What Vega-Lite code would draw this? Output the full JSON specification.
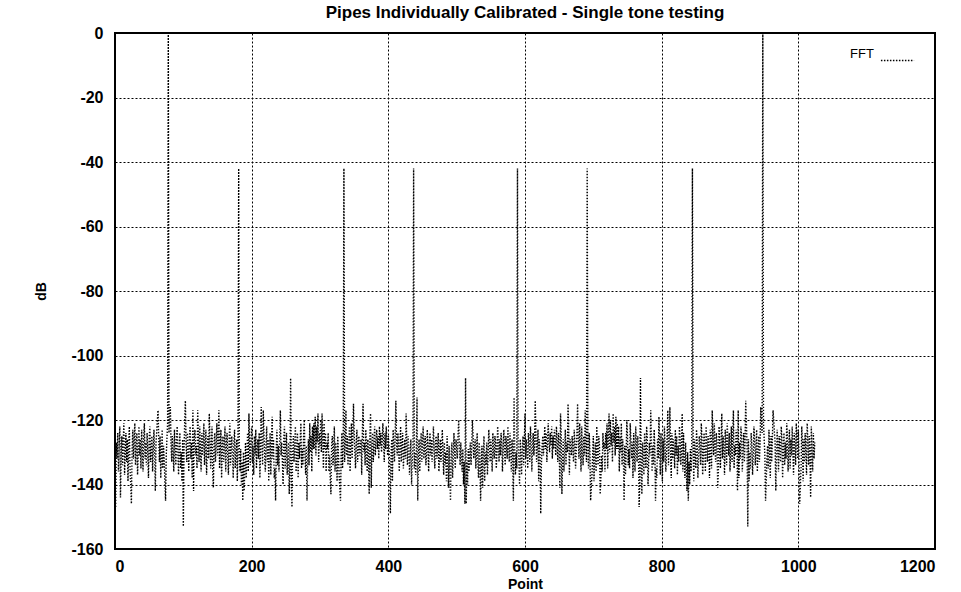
{
"$schema": "https://vega.github.io/schema/vega-lite/v6.json",
"width": 820,
"height": 516,
"autosize": "none",
"padding": {"left": 115, "top": 33, "right": 26, "bottom": 43},
"background": "white",
"title": {"text": "Pipes Individually Calibrated - Single tone testing", "font": "Liberation Sans", "fontWeight": "bold", "fontSize": 17, "color": "black", "offset": 3, "anchor": "middle"},
"data": {"values": [
{"p":1,"d":-147},{"p":2,"d":-127},{"p":3,"d":-132},{"p":4,"d":-124},{"p":5,"d":-136},{"p":6,"d":-129},{"p":7,"d":-122},{"p":8,"d":-144},{"p":9,"d":-131},{"p":10,"d":-125},
{"p":11,"d":-134},{"p":12,"d":-127},{"p":13,"d":-121},{"p":14,"d":-137},{"p":15,"d":-130},{"p":16,"d":-124},{"p":17,"d":-133},{"p":18,"d":-126},{"p":19,"d":-139},{"p":20,"d":-128},
{"p":21,"d":-122},{"p":22,"d":-135},{"p":23,"d":-140},{"p":24,"d":-146},{"p":25,"d":-130},{"p":26,"d":-123},{"p":27,"d":-132},{"p":28,"d":-126},{"p":29,"d":-121},{"p":30,"d":-134},
{"p":31,"d":-128},{"p":32,"d":-124},{"p":33,"d":-137},{"p":34,"d":-130},{"p":35,"d":-122},{"p":36,"d":-131},{"p":37,"d":-126},{"p":38,"d":-135},{"p":39,"d":-123},{"p":40,"d":-129},
{"p":41,"d":-136},{"p":42,"d":-125},{"p":43,"d":-121},{"p":44,"d":-132},{"p":45,"d":-127},{"p":46,"d":-134},{"p":47,"d":-124},{"p":48,"d":-130},{"p":49,"d":-138},{"p":50,"d":-126},
{"p":51,"d":-122},{"p":52,"d":-133},{"p":53,"d":-128},{"p":54,"d":-125},{"p":55,"d":-136},{"p":56,"d":-129},{"p":57,"d":-123},{"p":58,"d":-131},{"p":59,"d":-142},{"p":60,"d":-127},
{"p":61,"d":-124},{"p":62,"d":-120},{"p":63,"d":-117},{"p":64,"d":-126},{"p":65,"d":-133},{"p":66,"d":-125},{"p":67,"d":-138},{"p":68,"d":-130},{"p":69,"d":-123},{"p":70,"d":-135},
{"p":71,"d":-128},{"p":72,"d":-132},{"p":73,"d":-139},{"p":74,"d":-145},{"p":75,"d":-131},{"p":76,"d":-126},{"p":77,"d":-121},{"p":78,"d":0},{"p":79,"d":-124},{"p":80,"d":-120},
{"p":81,"d":-116},{"p":82,"d":-127},{"p":83,"d":-133},{"p":84,"d":-125},{"p":85,"d":-130},{"p":86,"d":-136},{"p":87,"d":-123},{"p":88,"d":-129},{"p":89,"d":-134},{"p":90,"d":-126},
{"p":91,"d":-122},{"p":92,"d":-131},{"p":93,"d":-137},{"p":94,"d":-128},{"p":95,"d":-124},{"p":96,"d":-135},{"p":97,"d":-130},{"p":98,"d":-139},{"p":99,"d":-126},{"p":100,"d":-153},
{"p":101,"d":-129},{"p":102,"d":-121},{"p":103,"d":-114},{"p":104,"d":-127},{"p":105,"d":-133},{"p":106,"d":-124},{"p":107,"d":-130},{"p":108,"d":-136},{"p":109,"d":-125},{"p":110,"d":-122},
{"p":111,"d":-132},{"p":112,"d":-127},{"p":113,"d":-138},{"p":114,"d":-117},{"p":115,"d":-142},{"p":116,"d":-126},{"p":117,"d":-123},{"p":118,"d":-131},{"p":119,"d":-128},{"p":120,"d":-135},
{"p":121,"d":-117},{"p":122,"d":-125},{"p":123,"d":-133},{"p":124,"d":-122},{"p":125,"d":-129},{"p":126,"d":-136},{"p":127,"d":-124},{"p":128,"d":-131},{"p":129,"d":-127},{"p":130,"d":-121},
{"p":131,"d":-134},{"p":132,"d":-128},{"p":133,"d":-123},{"p":134,"d":-137},{"p":135,"d":-130},{"p":136,"d":-125},{"p":137,"d":-132},{"p":138,"d":-118},{"p":139,"d":-126},{"p":140,"d":-135},
{"p":141,"d":-129},{"p":142,"d":-122},{"p":143,"d":-136},{"p":144,"d":-141},{"p":145,"d":-127},{"p":146,"d":-124},{"p":147,"d":-133},{"p":148,"d":-128},{"p":149,"d":-121},{"p":150,"d":-131},
{"p":151,"d":-126},{"p":152,"d":-117},{"p":153,"d":-135},{"p":154,"d":-129},{"p":155,"d":-123},{"p":156,"d":-138},{"p":157,"d":-130},{"p":158,"d":-125},{"p":159,"d":-133},{"p":160,"d":-127},
{"p":161,"d":-122},{"p":162,"d":-136},{"p":163,"d":-128},{"p":164,"d":-124},{"p":165,"d":-131},{"p":166,"d":-137},{"p":167,"d":-126},{"p":168,"d":-121},{"p":169,"d":-134},{"p":170,"d":-129},
{"p":171,"d":-125},{"p":172,"d":-132},{"p":173,"d":-138},{"p":174,"d":-127},{"p":175,"d":-123},{"p":176,"d":-135},{"p":177,"d":-130},{"p":178,"d":-126},{"p":179,"d":-139},{"p":180,"d":-128},
{"p":181,"d":-42},{"p":182,"d":-131},{"p":183,"d":-136},{"p":184,"d":-129},{"p":185,"d":-140},{"p":186,"d":-133},{"p":187,"d":-145},{"p":188,"d":-130},{"p":189,"d":-142},{"p":190,"d":-135},
{"p":191,"d":-127},{"p":192,"d":-138},{"p":193,"d":-132},{"p":194,"d":-124},{"p":195,"d":-136},{"p":196,"d":-118},{"p":197,"d":-129},{"p":198,"d":-134},{"p":199,"d":-126},{"p":200,"d":-122},
{"p":201,"d":-133},{"p":202,"d":-128},{"p":203,"d":-137},{"p":204,"d":-125},{"p":205,"d":-131},{"p":206,"d":-123},{"p":207,"d":-135},{"p":208,"d":-129},{"p":209,"d":-126},{"p":210,"d":-132},
{"p":211,"d":-124},{"p":212,"d":-138},{"p":213,"d":-130},{"p":214,"d":-116},{"p":215,"d":-127},{"p":216,"d":-134},{"p":217,"d":-117},{"p":218,"d":-125},{"p":219,"d":-131},{"p":220,"d":-136},
{"p":221,"d":-128},{"p":222,"d":-122},{"p":223,"d":-133},{"p":224,"d":-126},{"p":225,"d":-139},{"p":226,"d":-130},{"p":227,"d":-124},{"p":228,"d":-137},{"p":229,"d":-127},{"p":230,"d":-119},
{"p":231,"d":-132},{"p":232,"d":-126},{"p":233,"d":-138},{"p":234,"d":-135},{"p":235,"d":-145},{"p":236,"d":-129},{"p":237,"d":-123},{"p":238,"d":-134},{"p":239,"d":-128},{"p":240,"d":-136},
{"p":241,"d":-125},{"p":242,"d":-117},{"p":243,"d":-131},{"p":244,"d":-127},{"p":245,"d":-133},{"p":246,"d":-140},{"p":247,"d":-126},{"p":248,"d":-122},{"p":249,"d":-135},{"p":250,"d":-129},
{"p":251,"d":-124},{"p":252,"d":-137},{"p":253,"d":-131},{"p":254,"d":-127},{"p":255,"d":-143},{"p":256,"d":-134},{"p":257,"d":-107},{"p":258,"d":-139},{"p":259,"d":-147},{"p":260,"d":-130},
{"p":261,"d":-125},{"p":262,"d":-133},{"p":263,"d":-128},{"p":264,"d":-122},{"p":265,"d":-136},{"p":266,"d":-130},{"p":267,"d":-124},{"p":268,"d":-138},{"p":269,"d":-127},{"p":270,"d":-132},
{"p":271,"d":-126},{"p":272,"d":-121},{"p":273,"d":-135},{"p":274,"d":-129},{"p":275,"d":-134},{"p":276,"d":-125},{"p":277,"d":-120},{"p":278,"d":-131},{"p":279,"d":-137},{"p":280,"d":-128},
{"p":281,"d":-145},{"p":282,"d":-132},{"p":283,"d":-126},{"p":284,"d":-134},{"p":285,"d":-121},{"p":286,"d":-130},{"p":287,"d":-125},{"p":288,"d":-136},{"p":289,"d":-122},{"p":290,"d":-129},
{"p":291,"d":-121},{"p":292,"d":-129},{"p":293,"d":-119},{"p":294,"d":-131},{"p":295,"d":-122},{"p":296,"d":-127},{"p":297,"d":-118},{"p":298,"d":-133},{"p":299,"d":-124},{"p":300,"d":-128},
{"p":301,"d":-120},{"p":302,"d":-130},{"p":303,"d":-118},{"p":304,"d":-126},{"p":305,"d":-135},{"p":306,"d":-121},{"p":307,"d":-129},{"p":308,"d":-124},{"p":309,"d":-136},{"p":310,"d":-127},
{"p":311,"d":-129},{"p":312,"d":-124},{"p":313,"d":-136},{"p":314,"d":-131},{"p":315,"d":-138},{"p":316,"d":-143},{"p":317,"d":-128},{"p":318,"d":-125},{"p":319,"d":-134},{"p":320,"d":-130},
{"p":321,"d":-122},{"p":322,"d":-136},{"p":323,"d":-127},{"p":324,"d":-132},{"p":325,"d":-139},{"p":326,"d":-125},{"p":327,"d":-131},{"p":328,"d":-137},{"p":329,"d":-141},{"p":330,"d":-145},
{"p":331,"d":-130},{"p":332,"d":-124},{"p":333,"d":-135},{"p":334,"d":-128},{"p":335,"d":-42},{"p":336,"d":-133},{"p":337,"d":-126},{"p":338,"d":-117},{"p":339,"d":-131},{"p":340,"d":-125},
{"p":341,"d":-134},{"p":342,"d":-129},{"p":343,"d":-122},{"p":344,"d":-136},{"p":345,"d":-127},{"p":346,"d":-121},{"p":347,"d":-132},{"p":348,"d":-126},{"p":349,"d":-115},{"p":350,"d":-124},
{"p":351,"d":-130},{"p":352,"d":-135},{"p":353,"d":-127},{"p":354,"d":-123},{"p":355,"d":-133},{"p":356,"d":-128},{"p":357,"d":-125},{"p":358,"d":-131},{"p":359,"d":-129},{"p":360,"d":-126},
{"p":361,"d":-137},{"p":362,"d":-124},{"p":363,"d":-115},{"p":364,"d":-130},{"p":365,"d":-127},{"p":366,"d":-134},{"p":367,"d":-123},{"p":368,"d":-129},{"p":369,"d":-136},{"p":370,"d":-126},
{"p":371,"d":-132},{"p":372,"d":-143},{"p":373,"d":-125},{"p":374,"d":-118},{"p":375,"d":-141},{"p":376,"d":-128},{"p":377,"d":-124},{"p":378,"d":-133},{"p":379,"d":-127},{"p":380,"d":-122},
{"p":381,"d":-131},{"p":382,"d":-126},{"p":383,"d":-123},{"p":384,"d":-129},{"p":385,"d":-125},{"p":386,"d":-132},{"p":387,"d":-122},{"p":388,"d":-128},{"p":389,"d":-124},{"p":390,"d":-130},
{"p":391,"d":-127},{"p":392,"d":-121},{"p":393,"d":-126},{"p":394,"d":-133},{"p":395,"d":-124},{"p":396,"d":-129},{"p":397,"d":-122},{"p":398,"d":-127},{"p":399,"d":-131},{"p":400,"d":-125},
{"p":401,"d":-128},{"p":402,"d":-134},{"p":403,"d":-149},{"p":404,"d":-130},{"p":405,"d":-126},{"p":406,"d":-139},{"p":407,"d":-123},{"p":408,"d":-128},{"p":409,"d":-133},{"p":410,"d":-125},
{"p":411,"d":-114},{"p":412,"d":-127},{"p":413,"d":-131},{"p":414,"d":-124},{"p":415,"d":-129},{"p":416,"d":-136},{"p":417,"d":-126},{"p":418,"d":-122},{"p":419,"d":-133},{"p":420,"d":-128},
{"p":421,"d":-124},{"p":422,"d":-135},{"p":423,"d":-130},{"p":424,"d":-126},{"p":425,"d":-132},{"p":426,"d":-118},{"p":427,"d":-127},{"p":428,"d":-134},{"p":429,"d":-125},{"p":430,"d":-129},
{"p":431,"d":-137},{"p":432,"d":-131},{"p":433,"d":-126},{"p":434,"d":-140},{"p":435,"d":-133},{"p":436,"d":-128},{"p":437,"d":-42},{"p":438,"d":-135},{"p":439,"d":-130},{"p":440,"d":-137},
{"p":441,"d":-129},{"p":442,"d":-113},{"p":443,"d":-145},{"p":444,"d":-131},{"p":445,"d":-126},{"p":446,"d":-136},{"p":447,"d":-129},{"p":448,"d":-124},{"p":449,"d":-133},{"p":450,"d":-127},
{"p":451,"d":-122},{"p":452,"d":-132},{"p":453,"d":-128},{"p":454,"d":-125},{"p":455,"d":-134},{"p":456,"d":-130},{"p":457,"d":-123},{"p":458,"d":-129},{"p":459,"d":-136},{"p":460,"d":-127},
{"p":461,"d":-124},{"p":462,"d":-131},{"p":463,"d":-126},{"p":464,"d":-133},{"p":465,"d":-128},{"p":466,"d":-122},{"p":467,"d":-130},{"p":468,"d":-135},{"p":469,"d":-127},{"p":470,"d":-125},
{"p":471,"d":-132},{"p":472,"d":-129},{"p":473,"d":-124},{"p":474,"d":-136},{"p":475,"d":-130},{"p":476,"d":-126},{"p":477,"d":-133},{"p":478,"d":-128},{"p":479,"d":-123},{"p":480,"d":-131},
{"p":481,"d":-137},{"p":482,"d":-127},{"p":483,"d":-134},{"p":484,"d":-130},{"p":485,"d":-139},{"p":486,"d":-125},{"p":487,"d":-132},{"p":488,"d":-141},{"p":489,"d":-128},{"p":490,"d":-136},
{"p":491,"d":-145},{"p":492,"d":-131},{"p":493,"d":-127},{"p":494,"d":-138},{"p":495,"d":-133},{"p":496,"d":-124},{"p":497,"d":-130},{"p":498,"d":-135},{"p":499,"d":-126},{"p":500,"d":-129},
{"p":501,"d":-132},{"p":502,"d":-125},{"p":503,"d":-120},{"p":504,"d":-128},{"p":505,"d":-134},{"p":506,"d":-127},{"p":507,"d":-131},{"p":508,"d":-136},{"p":509,"d":-129},{"p":510,"d":-140},
{"p":511,"d":-133},{"p":512,"d":-146},{"p":513,"d":-107},{"p":514,"d":-146},{"p":515,"d":-133},
{"p":516,"d":-140},{"p":517,"d":-129},{"p":518,"d":-136},{"p":519,"d":-131},{"p":520,"d":-127},{"p":521,"d":-134},{"p":522,"d":-128},{"p":523,"d":-120},{"p":524,"d":-125},{"p":525,"d":-132},
{"p":526,"d":-129},{"p":527,"d":-126},{"p":528,"d":-135},{"p":529,"d":-130},{"p":530,"d":-124},{"p":531,"d":-133},{"p":532,"d":-138},{"p":533,"d":-127},{"p":534,"d":-131},{"p":535,"d":-145},
{"p":536,"d":-136},{"p":537,"d":-128},{"p":538,"d":-141},{"p":539,"d":-132},{"p":540,"d":-125},{"p":541,"d":-139},{"p":542,"d":-130},{"p":543,"d":-134},{"p":544,"d":-127},{"p":545,"d":-137},
{"p":546,"d":-131},{"p":547,"d":-123},{"p":548,"d":-128},{"p":549,"d":-133},{"p":550,"d":-126},{"p":551,"d":-130},{"p":552,"d":-136},{"p":553,"d":-124},{"p":554,"d":-129},{"p":555,"d":-132},
{"p":556,"d":-125},{"p":557,"d":-127},{"p":558,"d":-135},{"p":559,"d":-130},{"p":560,"d":-122},{"p":561,"d":-128},{"p":562,"d":-133},{"p":563,"d":-126},{"p":564,"d":-131},{"p":565,"d":-124},
{"p":566,"d":-127},{"p":567,"d":-136},{"p":568,"d":-129},{"p":569,"d":-123},{"p":570,"d":-130},{"p":571,"d":-134},{"p":572,"d":-125},{"p":573,"d":-128},{"p":574,"d":-132},{"p":575,"d":-122},
{"p":576,"d":-127},{"p":577,"d":-133},{"p":578,"d":-124},{"p":579,"d":-129},{"p":580,"d":-136},{"p":581,"d":-126},{"p":582,"d":-131},{"p":583,"d":-145},{"p":584,"d":-113},{"p":585,"d":-129},
{"p":586,"d":-137},{"p":587,"d":-130},{"p":588,"d":-135},{"p":589,"d":-42},{"p":590,"d":-128},{"p":591,"d":-133},{"p":592,"d":-140},{"p":593,"d":-126},{"p":594,"d":-131},{"p":595,"d":-137},
{"p":596,"d":-129},{"p":597,"d":-125},{"p":598,"d":-134},{"p":599,"d":-127},{"p":600,"d":-118},{"p":601,"d":-132},{"p":602,"d":-126},{"p":603,"d":-130},{"p":604,"d":-135},{"p":605,"d":-124},
{"p":606,"d":-128},{"p":607,"d":-133},{"p":608,"d":-122},{"p":609,"d":-126},{"p":610,"d":-136},{"p":611,"d":-129},{"p":612,"d":-124},{"p":613,"d":-131},{"p":614,"d":-127},{"p":615,"d":-114},
{"p":616,"d":-125},{"p":617,"d":-133},{"p":618,"d":-128},{"p":619,"d":-123},{"p":620,"d":-139},{"p":621,"d":-126},{"p":622,"d":-130},{"p":623,"d":-149},{"p":624,"d":-134},{"p":625,"d":-128},
{"p":626,"d":-125},{"p":627,"d":-131},{"p":628,"d":-127},{"p":629,"d":-122},{"p":630,"d":-129},{"p":631,"d":-124},{"p":632,"d":-133},{"p":633,"d":-126},{"p":634,"d":-121},{"p":635,"d":-127},
{"p":636,"d":-130},{"p":637,"d":-124},{"p":638,"d":-128},{"p":639,"d":-122},{"p":640,"d":-132},{"p":641,"d":-125},{"p":642,"d":-129},{"p":643,"d":-123},{"p":644,"d":-126},{"p":645,"d":-131},
{"p":646,"d":-122},{"p":647,"d":-127},{"p":648,"d":-133},{"p":649,"d":-124},{"p":650,"d":-128},{"p":651,"d":-141},{"p":652,"d":-118},{"p":653,"d":-125},{"p":654,"d":-143},{"p":655,"d":-132},
{"p":656,"d":-126},{"p":657,"d":-136},{"p":658,"d":-129},{"p":659,"d":-123},{"p":660,"d":-134},{"p":661,"d":-127},{"p":662,"d":-130},{"p":663,"d":-115},{"p":664,"d":-124},{"p":665,"d":-137},
{"p":666,"d":-126},{"p":667,"d":-129},{"p":668,"d":-131},{"p":669,"d":-125},{"p":670,"d":-128},{"p":671,"d":-133},{"p":672,"d":-123},{"p":673,"d":-127},{"p":674,"d":-135},{"p":675,"d":-130},
{"p":676,"d":-124},{"p":677,"d":-115},{"p":678,"d":-126},{"p":679,"d":-132},{"p":680,"d":-121},{"p":681,"d":-127},{"p":682,"d":-136},{"p":683,"d":-122},{"p":684,"d":-129},{"p":685,"d":-134},
{"p":686,"d":-125},{"p":687,"d":-131},{"p":688,"d":-117},{"p":689,"d":-126},{"p":690,"d":-133},{"p":691,"d":-42},{"p":692,"d":-128},{"p":693,"d":-135},{"p":694,"d":-124},{"p":695,"d":-130},
{"p":696,"d":-145},{"p":697,"d":-141},{"p":698,"d":-137},{"p":699,"d":-131},{"p":700,"d":-125},{"p":701,"d":-139},{"p":702,"d":-132},{"p":703,"d":-127},{"p":704,"d":-136},{"p":705,"d":-122},
{"p":706,"d":-130},{"p":707,"d":-134},{"p":708,"d":-125},{"p":709,"d":-128},{"p":710,"d":-143},{"p":711,"d":-138},{"p":712,"d":-131},{"p":713,"d":-136},{"p":714,"d":-124},{"p":715,"d":-129},
{"p":716,"d":-127},{"p":717,"d":-136},{"p":718,"d":-124},{"p":719,"d":-129},{"p":720,"d":-121},{"p":721,"d":-135},{"p":722,"d":-126},{"p":723,"d":-118},{"p":724,"d":-130},{"p":725,"d":-120},
{"p":726,"d":-128},{"p":727,"d":-124},{"p":728,"d":-133},{"p":729,"d":-118},{"p":730,"d":-127},{"p":731,"d":-122},{"p":732,"d":-131},{"p":733,"d":-119},{"p":734,"d":-129},{"p":735,"d":-121},
{"p":736,"d":-129},{"p":737,"d":-122},{"p":738,"d":-136},{"p":739,"d":-125},{"p":740,"d":-130},{"p":741,"d":-121},{"p":742,"d":-134},{"p":743,"d":-126},{"p":744,"d":-132},{"p":745,"d":-145},
{"p":746,"d":-128},{"p":747,"d":-137},{"p":748,"d":-131},{"p":749,"d":-120},{"p":750,"d":-125},{"p":751,"d":-134},{"p":752,"d":-129},{"p":753,"d":-135},{"p":754,"d":-121},{"p":755,"d":-126},
{"p":756,"d":-132},{"p":757,"d":-127},{"p":758,"d":-138},{"p":759,"d":-124},{"p":760,"d":-130},{"p":761,"d":-136},{"p":762,"d":-122},{"p":763,"d":-128},{"p":764,"d":-133},{"p":765,"d":-125},
{"p":766,"d":-130},{"p":767,"d":-147},{"p":768,"d":-139},{"p":769,"d":-107},{"p":770,"d":-134},{"p":771,"d":-143},{"p":772,"d":-127},{"p":773,"d":-131},{"p":774,"d":-137},{"p":775,"d":-124},
{"p":776,"d":-129},{"p":777,"d":-135},{"p":778,"d":-122},{"p":779,"d":-126},{"p":780,"d":-140},{"p":781,"d":-133},{"p":782,"d":-127},{"p":783,"d":-131},{"p":784,"d":-117},{"p":785,"d":-125},
{"p":786,"d":-136},{"p":787,"d":-128},{"p":788,"d":-134},{"p":789,"d":-123},{"p":790,"d":-129},{"p":791,"d":-145},{"p":792,"d":-135},{"p":793,"d":-138},{"p":794,"d":-126},{"p":795,"d":-132},
{"p":796,"d":-119},{"p":797,"d":-127},{"p":798,"d":-137},{"p":799,"d":-124},{"p":800,"d":-130},{"p":801,"d":-139},{"p":802,"d":-126},{"p":803,"d":-133},{"p":804,"d":-122},{"p":805,"d":-128},
{"p":806,"d":-136},{"p":807,"d":-131},{"p":808,"d":-125},{"p":809,"d":-117},{"p":810,"d":-134},{"p":811,"d":-127},{"p":812,"d":-116},{"p":813,"d":-130},{"p":814,"d":-138},{"p":815,"d":-124},
{"p":816,"d":-132},{"p":817,"d":-126},{"p":818,"d":-129},{"p":819,"d":-135},{"p":820,"d":-123},{"p":821,"d":-131},{"p":822,"d":-125},{"p":823,"d":-137},{"p":824,"d":-128},{"p":825,"d":-133},
{"p":826,"d":-122},{"p":827,"d":-126},{"p":828,"d":-134},{"p":829,"d":-129},{"p":830,"d":-118},{"p":831,"d":-136},{"p":832,"d":-124},{"p":833,"d":-132},{"p":834,"d":-138},{"p":835,"d":-127},
{"p":836,"d":-135},{"p":837,"d":-142},{"p":838,"d":-130},{"p":839,"d":-145},{"p":840,"d":-133},{"p":841,"d":-140},{"p":842,"d":-129},{"p":843,"d":-136},{"p":844,"d":-131},{"p":845,"d":-42},
{"p":846,"d":-128},{"p":847,"d":-139},{"p":848,"d":-126},{"p":849,"d":-130},{"p":850,"d":-135},{"p":851,"d":-123},{"p":852,"d":-127},{"p":853,"d":-138},{"p":854,"d":-132},{"p":855,"d":-125},
{"p":856,"d":-129},{"p":857,"d":-134},{"p":858,"d":-121},{"p":859,"d":-126},{"p":860,"d":-137},{"p":861,"d":-131},{"p":862,"d":-124},{"p":863,"d":-128},{"p":864,"d":-136},{"p":865,"d":-122},
{"p":866,"d":-127},{"p":867,"d":-133},{"p":868,"d":-125},{"p":869,"d":-130},{"p":870,"d":-138},{"p":871,"d":-123},{"p":872,"d":-129},{"p":873,"d":-135},{"p":874,"d":-117},{"p":875,"d":-126},
{"p":876,"d":-131},{"p":877,"d":-121},{"p":878,"d":-128},{"p":879,"d":-133},{"p":880,"d":-124},{"p":881,"d":-127},{"p":882,"d":-141},{"p":883,"d":-136},{"p":884,"d":-122},{"p":885,"d":-129},
{"p":886,"d":-135},{"p":887,"d":-126},{"p":888,"d":-118},{"p":889,"d":-132},{"p":890,"d":-125},{"p":891,"d":-130},{"p":892,"d":-137},{"p":893,"d":-123},{"p":894,"d":-128},{"p":895,"d":-134},
{"p":896,"d":-121},{"p":897,"d":-127},{"p":898,"d":-131},{"p":899,"d":-124},{"p":900,"d":-136},{"p":901,"d":-129},{"p":902,"d":-122},{"p":903,"d":-133},{"p":904,"d":-125},{"p":905,"d":-117},
{"p":906,"d":-135},{"p":907,"d":-128},{"p":908,"d":-131},{"p":909,"d":-123},{"p":910,"d":-126},{"p":911,"d":-142},{"p":912,"d":-117},{"p":913,"d":-138},{"p":914,"d":-127},{"p":915,"d":-132},
{"p":916,"d":-122},{"p":917,"d":-125},{"p":918,"d":-136},{"p":919,"d":-130},{"p":920,"d":-124},{"p":921,"d":-133},{"p":922,"d":-127},{"p":923,"d":-114},{"p":924,"d":-121},{"p":925,"d":-129},
{"p":926,"d":-153},{"p":927,"d":-126},{"p":928,"d":-139},{"p":929,"d":-130},{"p":930,"d":-135},{"p":931,"d":-124},{"p":932,"d":-128},{"p":933,"d":-137},{"p":934,"d":-131},{"p":935,"d":-122},
{"p":936,"d":-126},{"p":937,"d":-134},{"p":938,"d":-129},{"p":939,"d":-123},{"p":940,"d":-136},{"p":941,"d":-130},{"p":942,"d":-125},{"p":943,"d":-133},{"p":944,"d":-127},{"p":945,"d":-116},
{"p":946,"d":-120},{"p":947,"d":-124},{"p":948,"d":0},{"p":949,"d":-121},{"p":950,"d":-126},{"p":951,"d":-131},{"p":952,"d":-145},{"p":953,"d":-139},{"p":954,"d":-132},{"p":955,"d":-128},
{"p":956,"d":-135},{"p":957,"d":-123},{"p":958,"d":-130},{"p":959,"d":-138},{"p":960,"d":-125},{"p":961,"d":-133},{"p":962,"d":-126},{"p":963,"d":-117},{"p":964,"d":-120},{"p":965,"d":-124},
{"p":966,"d":-127},{"p":967,"d":-142},{"p":968,"d":-131},{"p":969,"d":-123},{"p":970,"d":-129},{"p":971,"d":-136},{"p":972,"d":-125},{"p":973,"d":-128},{"p":974,"d":-133},{"p":975,"d":-122},
{"p":976,"d":-126},{"p":977,"d":-138},{"p":978,"d":-130},{"p":979,"d":-124},{"p":980,"d":-134},{"p":981,"d":-127},{"p":982,"d":-132},{"p":983,"d":-121},{"p":984,"d":-125},{"p":985,"d":-136},
{"p":986,"d":-129},{"p":987,"d":-123},{"p":988,"d":-135},{"p":989,"d":-126},{"p":990,"d":-131},{"p":991,"d":-122},{"p":992,"d":-130},{"p":993,"d":-137},{"p":994,"d":-124},{"p":995,"d":-128},
{"p":996,"d":-134},{"p":997,"d":-121},{"p":998,"d":-126},{"p":999,"d":-132},{"p":1000,"d":-123},{"p":1001,"d":-130},{"p":1002,"d":-146},{"p":1003,"d":-140},{"p":1004,"d":-135},{"p":1005,"d":-122},
{"p":1006,"d":-128},{"p":1007,"d":-139},{"p":1008,"d":-126},{"p":1009,"d":-133},{"p":1010,"d":-124},{"p":1011,"d":-130},{"p":1012,"d":-137},{"p":1013,"d":-121},{"p":1014,"d":-127},{"p":1015,"d":-134},
{"p":1016,"d":-125},{"p":1017,"d":-131},{"p":1018,"d":-144},{"p":1019,"d":-122},{"p":1020,"d":-129},{"p":1021,"d":-136},{"p":1022,"d":-124},{"p":1023,"d":-132},{"p":1024,"d":-127}
]},
"mark": {"type": "line", "strokeWidth": 1.4, "strokeDash": [1.4, 1.6], "clip": true},
"encoding": {
  "x": {"field": "p", "type": "quantitative", "scale": {"domain": [0, 1200], "nice": false}, "axis": {"title": "Point", "values": [0, 200, 400, 600, 800, 1000, 1200], "labelExpr": "datum.value + ''", "labelPadding": 9, "titlePadding": 3}},
  "y": {"field": "d", "type": "quantitative", "scale": {"domain": [-160, 0], "nice": false}, "axis": {"title": "dB", "values": [-160, -140, -120, -100, -80, -60, -40, -20, 0], "labelExpr": "datum.value + ''", "labelPadding": 12, "titlePadding": 22}},
  "color": {"datum": "FFT", "type": "nominal", "scale": {"range": ["black"]}, "legend": {"title": "FFT", "titleOrient": "left", "labelExpr": "''", "orient": "none", "legendX": 735, "legendY": 10, "symbolType": "stroke", "symbolStrokeWidth": 1.5, "symbolDash": [1.5, 1.5], "symbolSize": 1100, "titleFont": "Liberation Sans", "titleFontWeight": "normal", "titleFontSize": 13, "titleColor": "black", "titlePadding": 6}}
},
"config": {
  "view": {"stroke": "black", "strokeWidth": 2},
  "axis": {"grid": true, "gridColor": "black", "gridDash": [2, 2], "gridOpacity": 1, "gridWidth": 1, "domain": false, "ticks": false, "labelFont": "Liberation Sans", "labelFontWeight": "bold", "labelFontSize": 16, "labelColor": "black", "titleFont": "Liberation Sans", "titleFontWeight": "bold", "titleFontSize": 14, "titleColor": "black"}
}
}
